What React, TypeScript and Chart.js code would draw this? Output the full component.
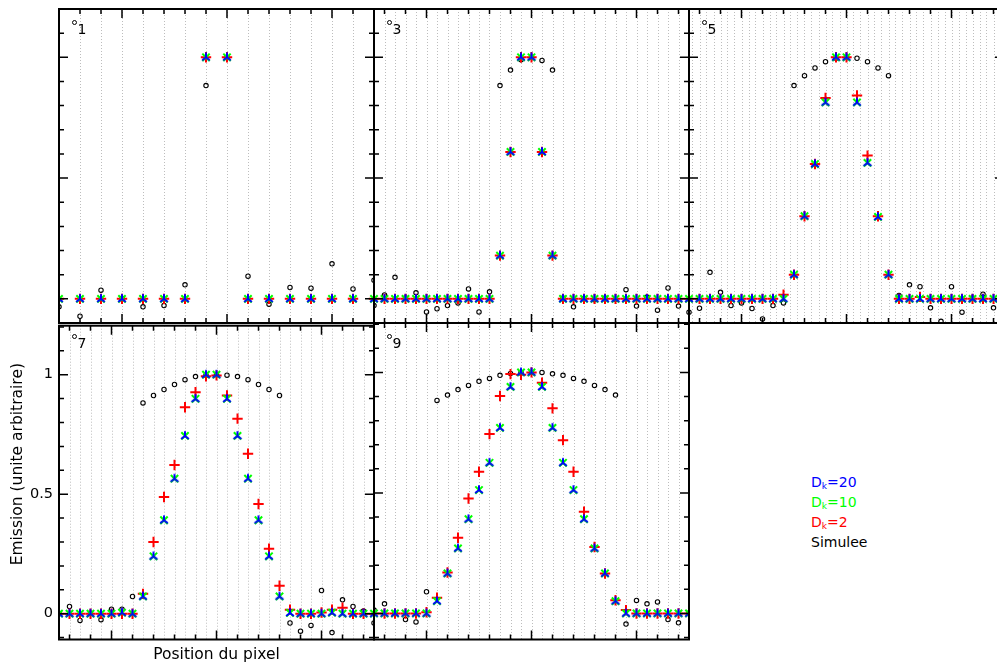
import React, { useEffect, useRef } from 'react';
import { Chart, registerables } from 'chart.js';

Chart.register(...registerables);
Chart.defaults.font.family = 'DejaVu Sans';

// ---------- data ----------
const POS_P1 = [2, 3, 4, 5, 6, 7, 8, 9, 10, 11, 12, 13, 14, 15, 16, 17];
const POS_FINE = [2.5, 3, 3.5, 4, 4.5, 5, 5.5, 6, 6.5, 7, 7.5, 8, 8.5, 9, 9.5, 10, 10.5, 11, 11.5, 12, 12.5, 13, 13.5, 14, 14.5, 15, 15.5, 16, 16.5, 17, 17.5];

const PANEL_LABELS = ['1', '3', '5', '7', '9'];
const SERIES_NAMES = ['Dk=20', 'Dk=10', 'Dk=2', 'Simulee'];
const Y_TICK_LABELS = [0, 0.5, 1];
const X_TITLE = 'Position du pixel';
const Y_TITLE = 'Emission (unite arbitraire)';

// panel 1
const P1_DK20 = [0, 0, 0, 0, 0, 0, 0, 1, 1, 0, 0, 0, 0, 0, 0, 0];
const P1_DK10 = [0, 0, 0, 0, 0, 0, 0, 1, 1, 0, 0, 0, 0, 0, 0, 0];
const P1_DK2 = [0, 0, 0, 0, 0, 0, 0, 1, 1, 0, 0, 0, 0, 0, 0, 0];
const P1_SIM = [-0.033, -0.072, 0.036, 0.002, -0.033, -0.028, 0.058, 0.883, 1.0, 0.094, -0.022, 0.047, 0.044, 0.145, 0.041, 0.077];

// panel 3
const P3_DK20 = [0, 0, 0, 0, 0, 0, 0, 0, 0, 0, 0, 0, 0.179, 0.608, 1, 1, 0.608, 0.179, 0, 0, 0, 0, 0, 0, 0, 0, 0, 0, 0, 0, 0];
const P3_DK10 = [0, 0, 0, 0, 0, 0, 0, 0, 0, 0, 0, 0, 0.179, 0.608, 1, 1, 0.608, 0.179, 0, 0, 0, 0, 0, 0, 0, 0, 0, 0, 0, 0, 0];
const P3_DK2 = [0, 0, 0, 0, 0, 0, 0, 0, 0, 0, 0, 0, 0.179, 0.608, 1, 1, 0.608, 0.179, 0, 0, 0, 0, 0, 0, 0, 0, 0, 0, 0, 0, 0];
const P3_SIM = [-0.028, 0.016, 0.089, 0.004, 0.025, -0.054, -0.041, -0.028, -0.017, 0.041, -0.054, 0.029, 0.883, 0.947, 0.99, 1.0, 0.987, 0.947, 0.003, -0.033, 0.002, -0.004, 0.003, -0.002, 0.038, -0.03, 0.008, -0.047, 0.045, -0.03, -0.055];

// panel 5
const P5_DK20 = [0, 0, 0, 0, 0, 0, 0, 0, 0, 0, 0.1, 0.342, 0.558, 0.813, 1, 1, 0.813, 0.563, 0.339, 0.1, 0, 0, 0, 0, 0, 0, 0, 0, 0, 0, 0];
const P5_DK10 = [0, 0, 0, 0, 0, 0, 0, 0, 0, 0, 0.1, 0.342, 0.558, 0.813, 1, 1, 0.813, 0.563, 0.339, 0.1, 0, 0, 0, 0, 0, 0, 0, 0, 0, 0, 0];
const P5_DK2 = [0, 0, 0, 0, 0, 0, 0, 0, 0, 0.017, 0.1, 0.342, 0.558, 0.832, 1, 1, 0.842, 0.593, 0.342, 0.1, 0, 0, 0.008, 0, 0, 0, 0, 0, 0, 0, 0];
const P5_SIM = [-0.055, -0.039, 0.11, 0.027, -0.028, -0.017, -0.04, -0.083, -0.028, -0.017, 0.883, 0.924, 0.956, 0.982, 0.996, 1.0, 0.996, 0.982, 0.956, 0.924, 0.014, 0.058, 0.05, -0.037, -0.093, 0.05, -0.055, 0.003, 0.019, -0.037, 0.0];

// panel 7
const P7_DK20 = [0, 0, 0, 0, 0, 0, 0.004, 0, 0.072, 0.24, 0.391, 0.565, 0.744, 0.899, 1, 1, 0.899, 0.744, 0.565, 0.391, 0.24, 0.072, 0.003, 0, 0, 0, 0.004, 0, 0, 0, 0];
const P7_DK10 = [0, 0, 0, 0, 0, 0, 0.004, 0, 0.072, 0.24, 0.391, 0.565, 0.744, 0.899, 1, 1, 0.899, 0.744, 0.565, 0.391, 0.24, 0.072, 0.003, 0, 0, 0, 0.004, 0, 0, 0, 0];
const P7_DK2 = [0, 0, 0, 0, 0, 0, 0, 0, 0.083, 0.3, 0.488, 0.622, 0.864, 0.927, 0.993, 0.997, 0.913, 0.816, 0.669, 0.459, 0.272, 0.117, 0.017, 0, 0, 0.005, 0.017, 0.025, 0, 0, 0];
const P7_SIM = [0.002, 0.03, -0.028, 0.002, -0.025, 0.019, 0.019, 0.072, 0.882, 0.913, 0.938, 0.959, 0.979, 0.992, 0.998, 1.0, 0.998, 0.992, 0.979, 0.959, 0.938, 0.913, -0.039, -0.073, -0.049, 0.097, -0.079, 0.058, 0.03, 0.011, -0.039];

// panel 9
const P9_DK20 = [0, 0, 0, 0, 0, 0, 0.051, 0.166, 0.27, 0.391, 0.512, 0.625, 0.77, 0.94, 1, 1, 0.94, 0.77, 0.625, 0.512, 0.391, 0.27, 0.166, 0.051, 0, 0, 0, 0, 0, 0, 0];
const P9_DK10 = [0, 0, 0, 0, 0, 0, 0.051, 0.166, 0.27, 0.391, 0.512, 0.625, 0.77, 0.94, 1, 1, 0.94, 0.77, 0.625, 0.512, 0.391, 0.27, 0.166, 0.051, 0, 0, 0, 0, 0, 0, 0];
const P9_DK2 = [0, 0, 0, 0, 0, 0.005, 0.065, 0.17, 0.314, 0.477, 0.588, 0.744, 0.902, 0.993, 0.99, 1.0, 0.957, 0.851, 0.719, 0.588, 0.422, 0.276, 0.166, 0.055, 0.014, 0, 0, 0, 0, 0, 0];
const P9_SIM = [0.014, 0.04, 0.002, -0.025, -0.035, 0.09, 0.884, 0.906, 0.929, 0.946, 0.963, 0.975, 0.988, 0.996, 1.0, 1.0, 1.0, 0.994, 0.988, 0.975, 0.963, 0.946, 0.929, 0.906, -0.044, 0.054, 0.04, 0.048, -0.025, -0.039, 0.002];

// ---------- layout ----------
const M = 12;
type Area = { l: number; t: number; r: number; b: number };
type PanelDef = {
  label: string;
  pos: number[];
  dk20: number[];
  dk10: number[];
  dk2: number[];
  sim: number[];
  xMin: number;
  xMax: number;
  yMin: number;
  yMax: number;
  grid: number;
  area: Area;
  axes: boolean;
};

const TOP_Y = { yMin: -0.1, yMax: 1.2 };
const BOT_Y = { yMin: -0.108, yMax: 1.205 };

const PANELS: PanelDef[] = [
  { label: PANEL_LABELS[0], pos: POS_P1, dk20: P1_DK20, dk10: P1_DK10, dk2: P1_DK2, sim: P1_SIM, xMin: 2, xMax: 17, ...TOP_Y, grid: 1, area: { l: 59, t: 9, r: 374, b: 323 }, axes: false },
  { label: PANEL_LABELS[1], pos: POS_FINE, dk20: P3_DK20, dk10: P3_DK10, dk2: P3_DK2, sim: P3_SIM, xMin: 2.5, xMax: 17.5, ...TOP_Y, grid: 0.5, area: { l: 374, t: 9, r: 689, b: 323 }, axes: false },
  { label: PANEL_LABELS[2], pos: POS_FINE, dk20: P5_DK20, dk10: P5_DK10, dk2: P5_DK2, sim: P5_SIM, xMin: 2.5, xMax: 17.5, ...TOP_Y, grid: 1 / 3, area: { l: 689, t: 9, r: 1004, b: 323 }, axes: false },
  { label: PANEL_LABELS[3], pos: POS_FINE, dk20: P7_DK20, dk10: P7_DK10, dk2: P7_DK2, sim: P7_SIM, xMin: 2.5, xMax: 17.5, ...BOT_Y, grid: 0.5, area: { l: 59, t: 323, r: 374, b: 639.5 }, axes: true },
  { label: PANEL_LABELS[4], pos: POS_FINE, dk20: P9_DK20, dk10: P9_DK10, dk2: P9_DK2, sim: P9_SIM, xMin: 2.5, xMax: 17.5, ...BOT_Y, grid: 0.5, area: { l: 374, t: 323, r: 689, b: 639.5 }, axes: false },
];

function canvasBox(p: PanelDef) {
  if (p.axes) {
    const left = 0, top = p.area.t - M, w = p.area.r + M, h = 664 - top;
    return { left, top, w, h, pad: { left: 0, top: M, right: M, bottom: 0 }, yW: p.area.l, xH: h - M - (p.area.b - p.area.t) };
  }
  const left = p.area.l - M, top = p.area.t - M;
  const w = p.area.r - p.area.l + 2 * M;
  const h = Math.ceil(p.area.b - p.area.t + 2 * M);
  return { left, top, w, h, pad: { left: M, top: M, right: M, bottom: h - M - (p.area.b - p.area.t) }, yW: 0, xH: 0 };
}

function multiples(min: number, max: number, step: number) {
  const out: number[] = [];
  for (let k = Math.ceil(min / step - 1e-6); k * step <= max + 1e-6; k++) out.push(k * step);
  return out;
}

// dotted vertical grid (under the data) + frame with inward ticks (over the data)
const framePlugin = {
  id: 'frame',
  beforeDatasetsDraw(chart: any, _a: any, opts: any) {
    const { ctx, chartArea: a } = chart;
    const xs = chart.scales.x;
    ctx.save();
    ctx.strokeStyle = '#bdbdbd';
    ctx.lineWidth = 1;
    ctx.setLineDash([1, 2]);
    ctx.beginPath();
    for (const v of multiples(xs.min, xs.max, opts.gridStep)) {
      const px = Math.round(xs.getPixelForValue(v)) + 0.5;
      ctx.moveTo(px, a.top);
      ctx.lineTo(px, a.bottom);
    }
    ctx.stroke();
    ctx.restore();
  },
  afterDraw(chart: any, _a: any, opts: any) {
    const { ctx, chartArea: a } = chart;
    const xs = chart.scales.x, ys = chart.scales.y;
    const isMaj = (v: number, m: number) => Math.abs(v / m - Math.round(v / m)) < 1e-6;
    ctx.save();
    ctx.strokeStyle = '#000';
    ctx.lineWidth = 1.5;
    ctx.beginPath();
    for (const v of multiples(xs.min, xs.max, 1)) {
      const px = xs.getPixelForValue(v);
      const len = isMaj(v, 5) ? 9 : 5;
      ctx.moveTo(px, a.top); ctx.lineTo(px, a.top + len);
      ctx.moveTo(px, a.bottom); ctx.lineTo(px, a.bottom - len);
    }
    for (const v of multiples(ys.min, ys.max, 0.1)) {
      const py = ys.getPixelForValue(v);
      const len = isMaj(v, 0.5) ? 9 : 5;
      ctx.moveTo(a.left, py); ctx.lineTo(a.left + len, py);
      ctx.moveTo(a.right, py); ctx.lineTo(a.right - len, py);
    }
    ctx.stroke();
    ctx.lineWidth = 2;
    ctx.strokeRect(a.left, a.top, a.right - a.left, a.bottom - a.top);
    // rotated y-axis title (centred where the original places it)
    if (opts.yTitle) {
      ctx.translate(17.5, a.top + 138.5);
      ctx.rotate(-Math.PI / 2);
      ctx.font = '15.5px "DejaVu Sans"';
      ctx.fillStyle = '#000';
      ctx.textAlign = 'center';
      ctx.textBaseline = 'middle';
      ctx.fillText(opts.yTitle, 0, 0);
    }
    ctx.restore();
  },
};

function makeTripod(color: string) {
  const c = document.createElement('canvas');
  c.width = 12; c.height = 12;
  const g = c.getContext('2d')!;
  g.strokeStyle = color;
  g.lineWidth = 2;
  g.lineCap = 'butt';
  const cx = 6, cy = 6, r = 4.8;
  g.beginPath();
  g.moveTo(cx, cy); g.lineTo(cx, cy - r);
  g.moveTo(cx, cy); g.lineTo(cx - r * 0.8, cy + r * 0.62);
  g.moveTo(cx, cy); g.lineTo(cx + r * 0.8, cy + r * 0.62);
  g.stroke();
  return c;
}

function buildConfig(p: PanelDef, box: ReturnType<typeof canvasBox>): any {
  const zip = (ys: number[]) => ys.map((y, i) => ({ x: p.pos[i], y }));
  const tripod = makeTripod('#0000ff');
  const showAxes = p.axes;
  return {
    type: 'scatter',
    data: {
      datasets: [
        { label: SERIES_NAMES[0], data: zip(p.dk20), pointStyle: tripod, pointRadius: 5, borderColor: '#0000ff', backgroundColor: '#0000ff', clip: 0 },
        { label: SERIES_NAMES[1], data: zip(p.dk10), pointStyle: 'crossRot', pointRadius: 5.2, pointBorderWidth: 2, borderColor: '#00ff00', backgroundColor: '#00ff00', clip: 0 },
        { label: SERIES_NAMES[2], data: zip(p.dk2), pointStyle: 'cross', pointRadius: 5.2, pointBorderWidth: 2, borderColor: '#ff0000', backgroundColor: '#ff0000', clip: 0 },
        { label: SERIES_NAMES[3], data: zip(p.sim), pointStyle: 'circle', pointRadius: 2.2, pointBorderWidth: 1.1, borderColor: '#000000', pointBackgroundColor: 'rgba(0,0,0,0)', backgroundColor: 'rgba(0,0,0,0)', clip: 0 },
      ],
    },
    options: {
      animation: false,
      responsive: false,
      maintainAspectRatio: false,
      events: [],
      layout: { padding: box.pad },
      plugins: {
        legend: { display: false },
        tooltip: { enabled: false },
        frame: { gridStep: p.grid, yTitle: showAxes ? Y_TITLE : '' },
      },
      scales: {
        x: {
          type: 'linear',
          min: p.xMin,
          max: p.xMax,
          afterFit: (s: any) => { s.height = box.xH; },
          grid: { display: false, drawTicks: false },
          border: { display: false },
          ticks: { display: false },
          title: {
            display: showAxes,
            text: X_TITLE,
            color: '#000',
            font: { size: 15.5, family: 'DejaVu Sans' },
            padding: { top: 0, bottom: 0 },
          },
        },
        y: {
          type: 'linear',
          min: p.yMin,
          max: p.yMax,
          display: true,
          afterBuildTicks: (s: any) => { s.ticks = Y_TICK_LABELS.map((v) => ({ value: v })); },
          afterFit: (s: any) => { s.width = box.yW; },
          grid: { display: false, drawTicks: false },
          border: { display: false },
          ticks: {
            display: showAxes,
            color: '#000',
            padding: 6,
            font: { size: 14.5, family: 'DejaVu Sans' },
            callback: (v: number) => String(v),
          },
          title: { display: false },
        },
      },
    },
    plugins: [framePlugin],
  };
}

function Panel({ def }: { def: PanelDef }) {
  const ref = useRef<HTMLCanvasElement>(null);
  const box = canvasBox(def);
  useEffect(() => {
    const chart = new Chart(ref.current as HTMLCanvasElement, buildConfig(def, box));
    return () => chart.destroy();
  }, []);
  return (
    <canvas
      ref={ref}
      width={box.w}
      height={box.h}
      style={{ position: 'absolute', left: box.left, top: box.top, width: box.w, height: box.h, display: 'block' }}
    />
  );
}

function PanelLabel({ def }: { def: PanelDef }) {
  const { l, t } = def.area;
  return (
    <>
      <span
        style={{
          position: 'absolute', left: l + 12.8, top: t + 10.5, width: 5, height: 5,
          border: '1px solid #000', borderRadius: '50%', boxSizing: 'border-box',
        }}
      />
      <div
        style={{
          position: 'absolute', left: l + 18.5, top: t + 12.6, fontSize: 14, lineHeight: '14px',
          fontFamily: 'DejaVu Sans', color: '#000', whiteSpace: 'nowrap',
        }}
      >
        {def.label}
      </div>
    </>
  );
}

const LEGEND_COLORS = ['#0000ff', '#00ff00', '#ff0000', '#000000'];

function Legend() {
  const rows = SERIES_NAMES.map((name, i) => {
    const m = name.match(/^D(k)(=.*)$/);
    return (
      <div key={name} style={{ color: LEGEND_COLORS[i], height: 20, lineHeight: '20px', whiteSpace: 'nowrap' }}>
        {m ? (
          <>
            D<sub style={{ fontSize: 9, verticalAlign: '-2px', lineHeight: 0 }}>{m[1]}</sub>{m[2]}
          </>
        ) : name}
      </div>
    );
  });
  return (
    <div style={{ position: 'absolute', left: 811, top: 472, fontFamily: 'DejaVu Sans', fontSize: 14 }}>
      {rows}
    </div>
  );
}

export default function App() {
  return (
    <div
      style={{
        position: 'absolute', left: 0, top: 0, width: 997, height: 664, overflow: 'hidden',
        background: '#ffffff', fontFamily: 'DejaVu Sans',
      }}
    >
      {PANELS.map((p) => (
        <Panel key={p.label} def={p} />
      ))}
      {PANELS.map((p) => (
        <PanelLabel key={'l' + p.label} def={p} />
      ))}
      <Legend />
    </div>
  );
}
